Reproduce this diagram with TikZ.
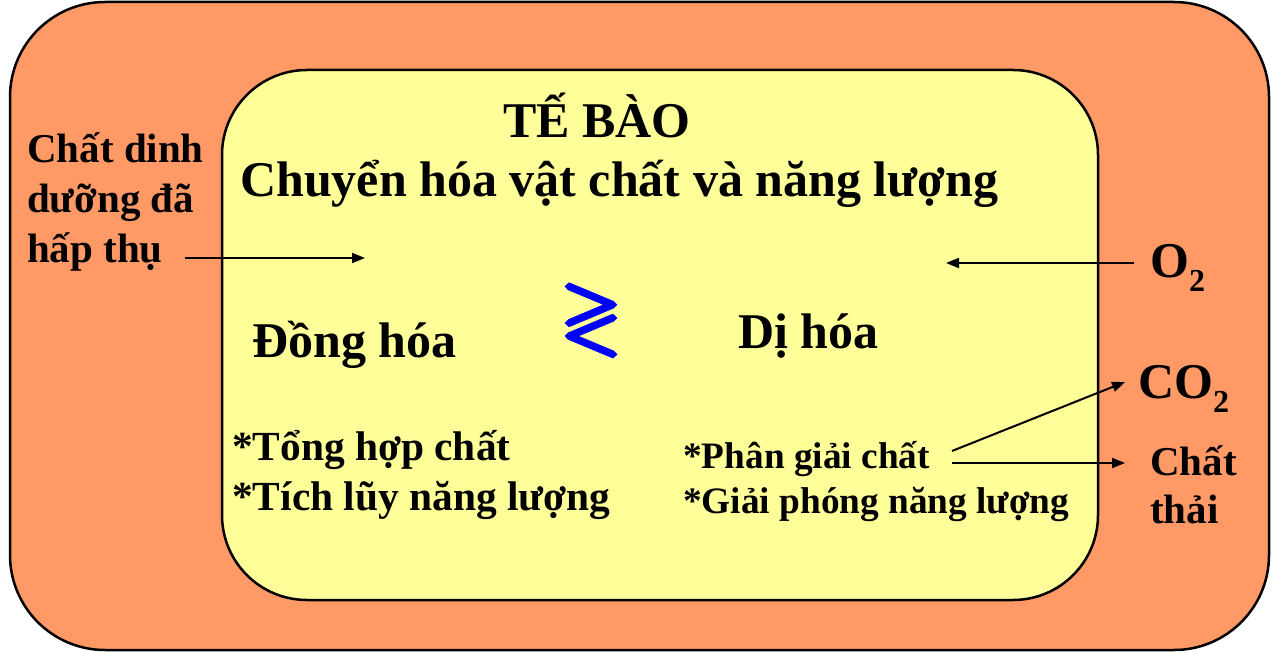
\documentclass[tikz,border=0pt]{standalone}
\usepackage{fontspec}
\setmainfont{Liberation Serif}
\usepackage{amssymb}
\usetikzlibrary{arrows.meta}
\definecolor{outerfill}{HTML}{FF9966}
\definecolor{innerfill}{HTML}{FFFF99}
\newcommand{\fs}[1]{\fontsize{#1}{#1}\selectfont\bfseries}
\newcommand{\subtwo}{\raisebox{-0.28em}{\fontsize{32}{32}\selectfont\bfseries 2}}
\newcommand{\heavyglyph}[1]{\special{pdf:literal direct 2 Tr 4.5 w 0 J 0 j}#1\special{pdf:literal direct 0 Tr 1 w 0 J 0 j}}
\begin{document}
\begin{tikzpicture}[x=1pt,y=-1pt,
  txt/.style={inner sep=0pt,anchor=base west},
  big/.style={txt,font=\fs{50}},
  mid/.style={txt,font=\fs{41}},
  itemL/.style={txt,font=\fs{41.4}},
  itemR/.style={txt,font=\fs{37.3}},
  conn/.style={line width=2pt,-{Triangle[length=13pt,width=10pt]}},
  frame/.style={line width=2.5pt,draw=black}]
\useasboundingbox (0,0) rectangle (1274,652);
\draw[frame,fill=outerfill,rounded corners=95pt] (10,2) rectangle (1269,650);
\draw[frame,fill=innerfill,rounded corners=85pt] (222,70) rectangle (1098,600);
% titles
\node[big] (title) at (503,138) {TẾ BÀO};
\node[big] (sub) at (240,197) {Chuyển hóa vật chất và năng lượng};
% left input
\node[mid] (in1) at (27,163) {Chất dinh};
\node[mid] (in2) at (27,213) {dưỡng đã};
\node[mid] (in3) at (27,263) {hấp thụ};
% O2
\node[big] (otwo) at (1150,278) {O\subtwo};
% main processes
\node[big] (dong) at (252,357) {Đồng hóa};
\node[big] (di) at (738,348) {Dị hóa};
\node[inner sep=0pt,text=blue,font=\fontsize{76}{76}\selectfont] (rel) at (591,318) {\heavyglyph{$\gtrless$}};
% CO2 and waste
\node[big] (cotwo) at (1138,398) {CO\subtwo};
\node[mid] (w1) at (1150,475) {Chất};
\node[mid] (w2) at (1150,523) {thải};
% items
\node[itemL] (a1) at (232,460) {*Tổng hợp chất};
\node[itemL] (a2) at (232,510) {*Tích lũy năng lượng};
\node[itemR] (b1) at (683,468) {*Phân giải chất};
\node[itemR] (b2) at (683,513) {*Giải phóng năng lượng};
% connector ends
\coordinate (inS) at (185,258);
\coordinate (inE) at (365,258);
\coordinate (oS) at (1134,263);
\coordinate (oE) at (946,263);
\coordinate (pS1) at (952,451);
\coordinate (pS2) at (952,463);
\coordinate (coE) at (1125,382);
\coordinate (wE) at (1125,463);
\draw[conn] (inS) -- (inE);
\draw[conn] (oS) -- (oE);
\draw[conn] (pS1) -- (coE);
\draw[conn] (pS2) -- (wE);
\end{tikzpicture}
\end{document}
